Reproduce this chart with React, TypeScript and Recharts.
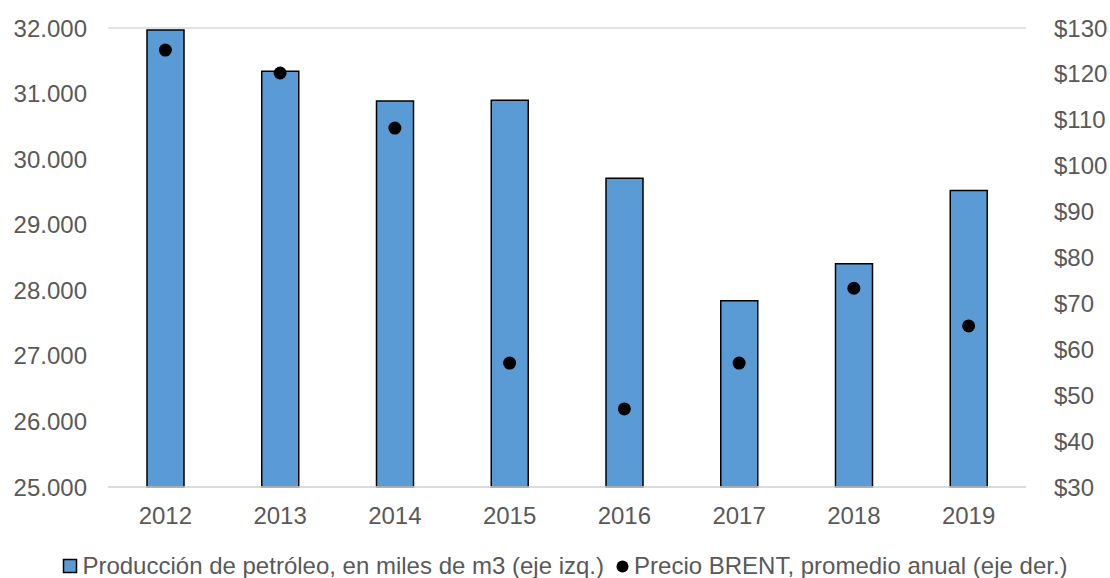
import {
    Bar,
    CartesianGrid,
    ComposedChart,
    Legend,
    Scatter,
    XAxis,
    YAxis
} from 'recharts';

const years = ['2012', '2013', '2014', '2015', '2016', '2017', '2018', '2019'];
// oil production, thousands of m3 (left axis)
const production = [31970, 31340, 30885, 30900, 29710, 27840, 28405, 29520];
// BRENT yearly average price, USD (right axis)
const brent = [125.2, 120.2, 108.2, 57.0, 47.0, 57.0, 73.3, 65.1];

const leftTicks = [25000, 26000, 27000, 28000, 29000, 30000, 31000, 32000];
const rightTicks = [30, 40, 50, 60, 70, 80, 90, 100, 110, 120, 130];

const FONT = '"Liberation Sans", Arial, sans-serif';
const TEXT = '#595959';
const BLUE = '#5B9BD5';

const data = years.map((year, i) => ({
    year,
    production: production[i],
    brent: brent[i]
}));

// 32000 -> "32.000"
const thousands = (v: number) => String(v).replace(/\B(?=(\d{3})+(?!\d))/g, '.');

const LegendBox = () => (
    <div style={{
        display: 'flex',
        justifyContent: 'center',
        alignItems: 'center',
        height: 24,
        paddingLeft: 20,
        fontFamily: FONT,
        fontSize: 24,
        color: TEXT,
        whiteSpace: 'nowrap'
    }}>
        <svg width={17} height={17} style={{ marginRight: 3 }}>
            <rect x={1.5} y={1.5} width={13} height={13} fill={BLUE} stroke="#000" strokeWidth={1.5} />
        </svg>
        <span>Producción de petróleo, en miles de m3 (eje izq.)</span>
        <svg width={17} height={17} style={{ marginLeft: 10, marginRight: 3 }}>
            <circle cx={8.5} cy={8.5} r={6} fill="#000" />
        </svg>
        <span>Precio BRENT, promedio anual (eje der.)</span>
    </div>
);

export default function App() {
    return (
        <div style={{ position: 'absolute', left: 0, top: 0, background: '#fff' }}>
            <ComposedChart
                width={1110}
                height={578}
                data={data}
                margin={{ top: 28, right: 0, left: 0, bottom: 0 }}
            >
                <CartesianGrid vertical={false} stroke="#D9D9D9" strokeWidth={1.5} />
                <XAxis
                    dataKey="year"
                    height={67}
                    axisLine={{ stroke: '#D9D9D9', strokeWidth: 1.5 }}
                    tickLine={false}
                    tickMargin={14}
                    tick={{ fill: TEXT, fontSize: 24, fontFamily: FONT }}
                />
                <YAxis
                    yAxisId="left"
                    width={108}
                    domain={[25000, 32000]}
                    ticks={leftTicks}
                    interval={0}
                    tickFormatter={thousands}
                    axisLine={false}
                    tickLine={false}
                    tickMargin={15}
                    tick={{ fill: TEXT, fontSize: 24, fontFamily: FONT }}
                />
                <YAxis
                    yAxisId="right"
                    orientation="right"
                    width={84}
                    domain={[30, 130]}
                    ticks={rightTicks}
                    interval={0}
                    tickFormatter={(v: number) => `$${v}`}
                    axisLine={false}
                    tickLine={false}
                    tickMargin={22}
                    tick={{ fill: TEXT, fontSize: 24, fontFamily: FONT }}
                />
                <Bar
                    yAxisId="left"
                    dataKey="production"
                    fill={BLUE}
                    stroke="#000"
                    strokeWidth={1.5}
                    barSize={37}
                    isAnimationActive={false}
                />
                <Scatter
                    yAxisId="right"
                    dataKey="brent"
                    fill="#000"
                    shape={(p: any) => <circle cx={p.cx} cy={p.cy} r={6.5} fill="#000" />}
                    isAnimationActive={false}
                />
                <Legend verticalAlign="bottom" content={<LegendBox />} />
            </ComposedChart>
        </div>
    );
}
